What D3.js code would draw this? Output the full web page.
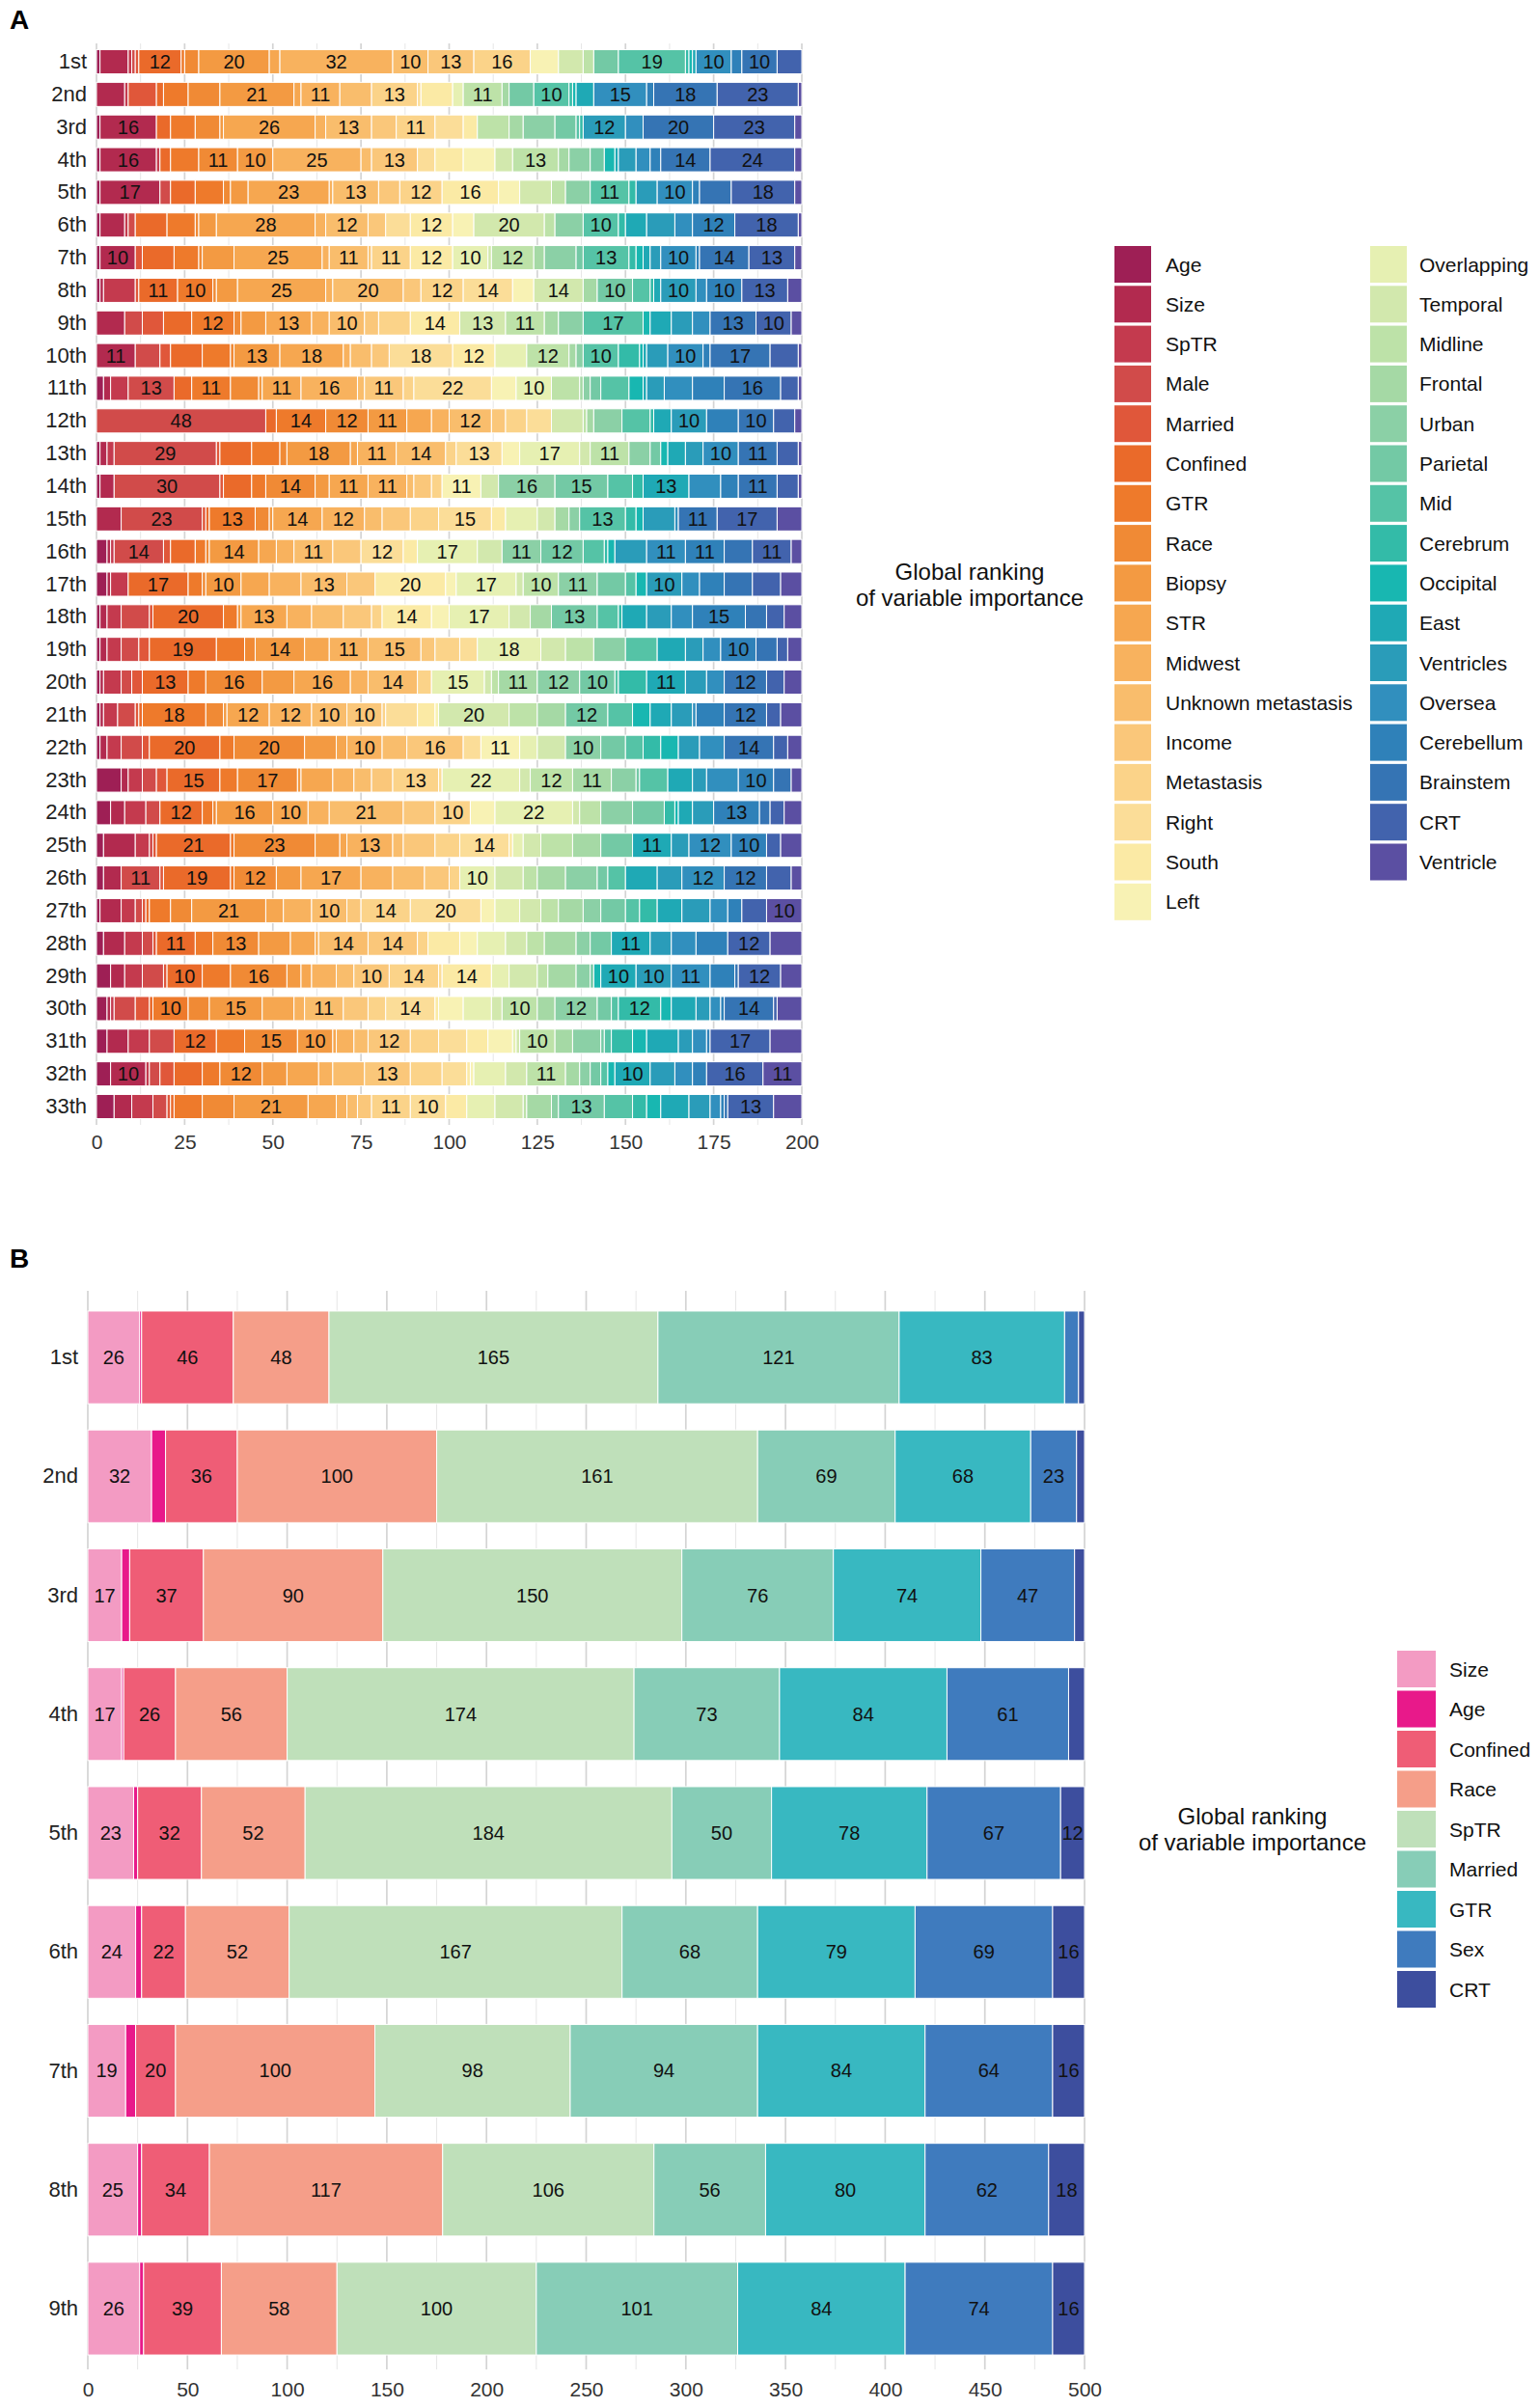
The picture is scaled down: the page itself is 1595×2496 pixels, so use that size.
<!DOCTYPE html>
<html><head><meta charset="utf-8">
<script src="https://cdn.jsdelivr.net/npm/d3@7"></script>
<style>body{margin:0;background:#fff} text{font-family:"Liberation Sans",Arial,Helvetica,sans-serif}</style>
</head><body>
<svg id="c" width="1595" height="2496"></svg>
<script>
// ---------------- Panel A data ----------------
const variablesA = ["Age","Size","SpTR","Male","Married","Confined","GTR","Race","Biopsy","STR","Midwest","Unknown metastasis","Income","Metastasis","Right","South","Left","Overlapping","Temporal","Midline","Frontal","Urban","Parietal","Mid","Cerebrum","Occipital","East","Ventricles","Oversea","Cerebellum","Brainstem","CRT","Ventricle"];
const colorsA = ["#9E1F55","#B22A4F","#C43A4E","#D14B4A","#E0573A","#EA6A2A","#EE7A2B","#F08A35","#F39A42","#F6A750","#F8B25E","#F9BD6C","#FAC77A","#FBD389","#FBDD98","#FBEAA5","#F8F2B4","#E6F0B2","#D2E8AD","#BDE2A8","#A5D9A5","#8BD0A6","#73C9A5","#55C3A6","#33BBA8","#18B7B1","#1FA9B5","#2A9CB9","#318FBE","#2F81B9","#3574B4","#4263AD","#5B4FA2"];
const ranksA = ["1st","2nd","3rd","4th","5th","6th","7th","8th","9th","10th","11th","12th","13th","14th","15th","16th","17th","18th","19th","20th","21th","22th","23th","24th","25th","26th","27th","28th","29th","30th","31th","32th","33th"];
const ticksA = [0,25,50,75,100,125,150,175,200];
// one array per rank, values in the order of variablesA
const a01 = [1,8,1,1,1,12,1,4,20,3,32,10,13,16,0,0,8,0,7,3,0,0,7,19,1,1,1,0,10,3,10,7,0];
const a02 = [0,8,1,0,8,2,7,9,21,2,11,9,0,13,1,9,0,3,0,11,2,0,7,10,1,1,5,0,15,2,18,23,1];
const a03 = [1,16,0,0,0,4,7,7,1,26,3,13,7,11,8,4,0,0,0,9,4,9,6,1,1,0,0,12,5,0,20,23,2];
const a04 = [1,16,1,0,0,3,8,11,10,0,25,3,13,0,5,8,9,0,5,13,3,6,4,0,0,3,1,5,4,3,14,24,2];
const a05 = [1,17,0,3,0,7,8,2,5,23,1,13,6,12,0,16,6,0,9,4,0,7,0,11,2,0,0,6,10,2,9,18,2];
const a06 = [1,7,1,2,0,9,8,1,5,28,3,12,5,0,7,12,6,0,20,3,0,8,0,10,2,0,6,8,5,12,0,18,1];
const a07 = [1,10,0,0,2,9,7,1,9,25,2,11,1,11,0,12,0,10,1,12,3,9,2,13,2,2,2,3,10,1,14,13,2];
const a08 = [1,1,9,0,1,11,10,1,6,25,2,20,5,12,14,0,6,0,14,0,4,0,10,5,1,0,2,10,3,10,0,13,4];
const a09 = [0,8,0,5,6,8,12,2,7,13,5,10,4,9,0,14,0,0,13,11,4,7,0,17,0,2,6,6,5,0,13,10,3];
const a10 = [0,11,0,7,3,9,8,1,13,18,2,6,5,0,18,12,0,9,0,12,2,2,0,10,6,1,1,6,10,2,17,8,1];
const a11 = [2,2,5,13,0,5,11,8,1,11,16,2,11,3,22,0,7,10,0,8,1,2,3,8,0,4,1,5,8,9,16,5,1];
const a12 = [0,0,0,48,0,3,14,12,11,7,5,12,4,6,7,0,0,0,9,1,2,8,0,8,1,0,5,10,0,9,10,6,2];
const a13 = [1,2,2,29,1,9,8,2,18,2,11,14,0,3,13,0,5,17,3,11,0,6,3,0,0,2,5,5,10,0,11,6,1];
const a14 = [1,4,0,30,1,8,4,14,4,11,11,2,5,3,0,0,11,0,5,0,0,16,15,7,3,0,13,0,9,5,11,6,1];
const a15 = [0,7,0,23,1,1,13,4,1,14,12,5,8,8,15,4,0,9,5,0,4,3,0,13,3,2,0,9,1,0,11,17,7];
const a16 = [3,1,1,14,2,7,3,1,14,5,5,11,8,0,12,4,0,17,7,0,0,11,12,6,1,2,0,9,11,11,8,11,3];
const a17 = [3,1,5,0,0,17,4,1,10,8,9,13,8,0,0,20,3,17,2,10,0,11,8,3,0,3,0,10,5,7,8,8,6];
const a18 = [1,2,4,8,1,20,4,0,1,13,7,9,8,3,0,14,5,17,6,0,6,0,13,6,1,0,7,7,6,15,6,5,5];
const a19 = [1,2,4,5,3,19,8,3,14,7,11,15,4,7,5,0,0,18,7,8,0,9,0,9,0,0,8,5,5,10,6,3,4];
const a20 = [1,1,5,3,3,13,5,16,9,16,5,14,0,4,0,0,0,15,2,2,11,12,10,1,8,0,11,6,5,0,12,5,5];
const a21 = [1,1,4,5,1,1,18,5,1,12,12,10,10,1,9,5,1,0,20,8,8,0,12,7,0,5,6,6,1,8,12,4,6];
const a22 = [1,2,4,6,2,20,4,20,9,3,10,7,16,0,5,0,11,5,8,0,0,10,7,5,5,5,0,6,7,0,14,4,4];
const a23 = [7,2,4,4,3,15,5,17,1,9,6,5,6,13,1,0,0,22,3,12,11,7,1,8,0,0,7,4,9,10,5,0,3];
const a24 = [4,4,6,4,0,12,3,1,16,10,6,21,9,10,0,0,7,22,2,6,0,9,9,0,3,1,4,6,0,13,3,4,5];
const a25 = [2,9,4,1,1,21,1,23,7,2,13,3,9,7,14,1,0,3,5,9,8,0,9,0,0,0,11,5,12,10,0,4,6];
const a26 = [2,5,0,11,1,19,1,12,7,17,9,9,7,3,0,0,0,10,8,4,8,9,3,5,0,0,9,7,12,0,12,7,3];
const a27 = [1,6,4,2,1,1,6,6,21,5,8,10,4,14,20,0,4,7,6,5,7,5,7,4,5,0,7,8,5,4,0,7,10];
const a28 = [2,6,5,3,1,11,5,13,9,7,1,14,14,3,0,9,5,8,6,5,9,4,6,0,0,0,11,6,7,9,0,12,9];
const a29 = [4,4,5,6,1,10,8,16,4,3,7,5,10,14,1,14,0,5,8,3,8,4,1,0,0,2,10,10,11,7,1,12,6];
const a30 = [3,1,1,6,4,1,10,6,15,9,3,11,7,5,14,1,7,8,3,10,5,12,4,2,12,3,7,4,3,1,14,1,7];
const a31 = [3,6,6,7,0,12,8,15,10,1,5,4,12,8,8,6,7,1,1,10,5,8,1,2,6,4,9,4,4,1,0,17,9];
const a32 = [4,10,1,3,4,8,5,12,7,9,4,9,13,9,7,1,1,9,6,11,4,3,3,2,0,2,10,7,5,4,0,16,11];
const a33 = [5,5,6,4,1,1,8,9,21,8,3,3,4,11,10,6,0,8,8,1,7,2,13,8,4,4,8,6,3,1,1,13,8];
const countsA = [a01,a02,a03,a04,a05,a06,a07,a08,a09,a10,a11,a12,a13,a14,a15,a16,a17,a18,a19,a20,a21,a22,a23,a24,a25,a26,a27,a28,a29,a30,a31,a32,a33];

// ---------------- Panel B data ----------------
const variablesB = ["Size","Age","Confined","Race","SpTR","Married","GTR","Sex","CRT"];
const colorsB = ["#F39BC3","#E8198A","#EF5D76","#F59E89","#BFE0BA","#87CDB7","#38B8C1","#3F7BBE","#3D4E9E"];
const ranksB = ["1st","2nd","3rd","4th","5th","6th","7th","8th","9th"];
const ticksB = [0,50,100,150,200,250,300,350,400,450,500];
const b01 = [26,1,46,48,165,121,83,7,3];
const b02 = [32,7,36,100,161,69,68,23,4];
const b03 = [17,4,37,90,150,76,74,47,5];
const b04 = [17,1,26,56,174,73,84,61,8];
const b05 = [23,2,32,52,184,50,78,67,12];
const b06 = [24,3,22,52,167,68,79,69,16];
const b07 = [19,5,20,100,98,94,84,64,16];
const b08 = [25,2,34,117,106,56,80,62,18];
const b09 = [26,2,39,58,100,101,84,74,16];
const countsB = [b01,b02,b03,b04,b05,b06,b07,b08,b09];

const legendTitle = ["Global ranking","of variable importance"];

// ---------------- drawing ----------------
const svg = d3.select("#c");
svg.append("rect").attr("width",1595).attr("height",2496).attr("fill","#fff");

function panel(cfg){
  const {vars, cols, ranks, counts, xMax, xRange, yRange, pad, minorStep, majorStep, gridY, ticks, axisY, labelSize, axisSize} = cfg;
  const rows = ranks.map((r,i)=>{ const o={rank:r}; vars.forEach((v,j)=>o[v]=counts[i][j]); return o; });
  const x = d3.scaleLinear().domain([0,xMax]).range(xRange);
  const y = d3.scaleBand().domain(ranks).range(yRange).paddingInner(pad).paddingOuter(pad/2);
  const color = d3.scaleOrdinal().domain(vars).range(cols);
  const g = svg.append("g");
  const gv = d3.range(0, xMax + 0.001, minorStep);
  g.selectAll("line.grid").data(gv).join("line")
    .attr("x1",d=>x(d)).attr("x2",d=>x(d)).attr("y1",gridY[0]).attr("y2",gridY[1])
    .attr("stroke", d=> (Math.abs(d % majorStep) < 1e-6) ? "#d4d4d4" : "#e6e6e6")
    .attr("stroke-width", d=> (Math.abs(d % majorStep) < 1e-6) ? 1.7 : 1);
  const series = d3.stack().keys(vars)(rows);
  const sg = g.selectAll("g.s").data(series).join("g").attr("fill", d=>color(d.key));
  sg.selectAll("rect").data(d=>d.map(p=>({p, key:d.key}))).join("rect")
    .filter(d=> d.p[1]-d.p[0] > 0)
    .attr("x", d=>x(d.p[0])).attr("width", d=>x(d.p[1])-x(d.p[0]))
    .attr("y", d=>y(d.p.data.rank)).attr("height", y.bandwidth())
    .attr("stroke","#fff").attr("stroke-width",1);
  const labs = [];
  series.forEach(s=>s.forEach(p=>{ const v=p[1]-p[0]; if(v>=10) labs.push({v, c:(p[0]+p[1])/2, rank:p.data.rank}); }));
  g.selectAll("text.lab").data(labs).join("text")
    .attr("x", d=>x(d.c)).attr("y", d=>y(d.rank)+y.bandwidth()/2)
    .attr("text-anchor","middle").attr("dominant-baseline","central")
    .attr("font-size", labelSize).attr("fill","#111").text(d=>d.v);
  const ax = g.append("g").attr("transform",`translate(0,${axisY})`)
    .call(d3.axisBottom(x).tickValues(ticks).tickSize(0).tickPadding(8));
  ax.select(".domain").remove();
  ax.selectAll("text").attr("font-size",axisSize).attr("fill","#333").attr("font-family","Liberation Sans, Arial, sans-serif");
  const ay = g.append("g").attr("transform",`translate(${xRange[0]},0)`)
    .call(d3.axisLeft(y).tickSize(0).tickPadding(10));
  ay.select(".domain").remove();
  ay.selectAll("text").attr("font-size",axisSize+1).attr("fill","#222").attr("font-family","Liberation Sans, Arial, sans-serif");
  return color;
}

const colA = panel({vars:variablesA, cols:colorsA, ranks:ranksA, counts:countsA, xMax:200,
  xRange:[100,831], yRange:[47.1,1163.9], pad:0.26, minorStep:12.5, majorStep:25, gridY:[45,1166],
  ticks:ticksA, axisY:1168, labelSize:20, axisSize:21});

const colB = panel({vars:variablesB, cols:colorsB, ranks:ranksB, counts:countsB, xMax:500,
  xRange:[91,1124], yRange:[1345.4,2454.6], pad:0.22, minorStep:25, majorStep:50, gridY:[1338,2456],
  ticks:ticksB, axisY:2461, labelSize:20, axisSize:21});

svg.append("text").attr("x",10).attr("y",30).attr("font-size",28).attr("font-weight","bold").text("A");
svg.append("text").attr("x",10).attr("y",1314).attr("font-size",28).attr("font-weight","bold").text("B");

function legendTitleAt(cx, y0){
  svg.append("g").selectAll("text").data(legendTitle).join("text")
    .attr("x",cx).attr("y",(d,i)=>y0+i*27).attr("text-anchor","middle")
    .attr("dominant-baseline","central").attr("font-size",24).attr("fill","#111").text(d=>d);
}
legendTitleAt(1005, 592);
const colsLeg = [variablesA.slice(0,17), variablesA.slice(17)];
const legX = [[1155,1208],[1420,1471]];
colsLeg.forEach((items,ci)=>{
  const lg = svg.append("g");
  lg.selectAll("rect").data(items).join("rect")
    .attr("x",legX[ci][0]).attr("y",(d,i)=>274+i*41.3-19).attr("width",38).attr("height",38)
    .attr("fill",d=>colA(d));
  lg.selectAll("text").data(items).join("text")
    .attr("x",legX[ci][1]).attr("y",(d,i)=>274+i*41.3).attr("dominant-baseline","central")
    .attr("font-size",21).attr("fill","#111").text(d=>d);
});
legendTitleAt(1298, 1882);
const lgB = svg.append("g");
lgB.selectAll("rect").data(variablesB).join("rect")
  .attr("x",1448).attr("y",(d,i)=>1730+i*41.5-19).attr("width",40).attr("height",38)
  .attr("fill",d=>colB(d));
lgB.selectAll("text").data(variablesB).join("text")
  .attr("x",1502).attr("y",(d,i)=>1730+i*41.5).attr("dominant-baseline","central")
  .attr("font-size",21).attr("fill","#111").text(d=>d);
</script>
</body></html>
